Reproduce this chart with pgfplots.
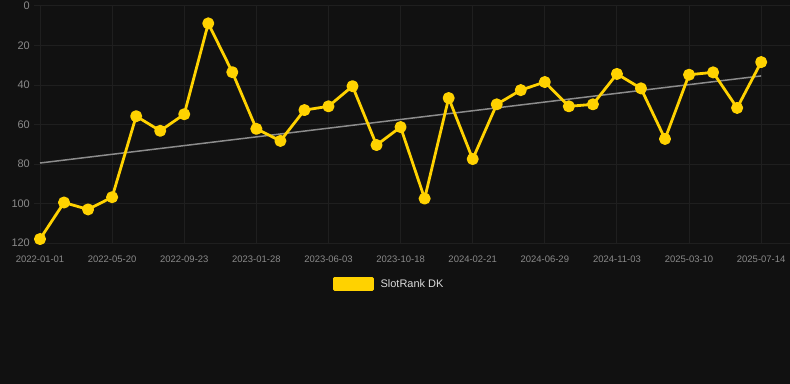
\documentclass[border=0pt]{standalone}
\usepackage{pgfplots}
\pgfplotsset{compat=1.18}
\usepackage{fontspec}
\setmainfont{Liberation Sans}
\definecolor{bg}{HTML}{111111}
\definecolor{ycol}{HTML}{FFD200}
\definecolor{gridc}{HTML}{1F1F1F}
\definecolor{tickc}{HTML}{8A8A8A}
\definecolor{trendc}{HTML}{8C8C8C}
\definecolor{legc}{HTML}{DADADA}
\begin{document}
\begin{tikzpicture}
\fill[bg] (0,0) rectangle (790bp,384bp);
\path[use as bounding box] (0,0) rectangle (790bp,384bp);
\begin{axis}[at={(34bp,141bp)}, anchor=south west, scale only axis,
  width=756bp, height=237bp,
  xmin=-0.25, xmax=31.2, ymin=0, ymax=120, y dir=reverse,
  axis line style={draw=none}, major tick length=0pt,
  grid=major, grid style={gridc, line width=1bp},
  xtick={0,3,...,30},
  xticklabels={2022-01-01,2022-05-20,2022-09-23,2023-01-28,2023-06-03,2023-10-18,2024-02-21,2024-06-29,2024-11-03,2025-03-10,2025-07-14},
  ytick={0,20,...,120},
  /pgf/number format/assume math mode=true,
  x tick label style={text=tickc, font=\fontsize{9.5}{10}\selectfont, anchor=north, inner sep=0pt, yshift=-12.5bp},
  y tick label style={text=tickc, font=\fontsize{11}{12}\selectfont, anchor=east, inner sep=0pt, xshift=-4bp},
  clip=false,
  legend style={at={(0.395,-0.173)}, anchor=west, draw=none, fill=none, inner sep=0pt,
    text=legc, font=\fontsize{11}{12}\selectfont, column sep=0pt,
    nodes={inner sep=0pt, text=legc}},
  legend cell align=left,
]
\addplot[trendc, line width=1.5bp, forget plot] coordinates {(0,79.5) (30,35.4)};
\addplot[ycol, line width=2.8bp, line join=round, mark=*, mark size=4.6bp, mark options={fill=ycol, draw=none},
  legend image code/.code={\fill[ycol] (0bp,-5.4bp) rectangle (38.5bp,5.4bp);}]
 coordinates {
(0,118) (1,99.5) (2,103) (3,96.8) (4,55.8) (5,63.2) (6,54.8) (7,8.8) (8,33.5) (9,62.2)
(10,68.3) (11,52.7) (12,50.8) (13,40.6) (14,70.4) (15,61.3) (16,97.5) (17,46.6) (18,77.5) (19,49.8)
(20,42.6) (21,38.5) (22,50.8) (23,49.8) (24,34.4) (25,41.7) (26,67.3) (27,34.8) (28,33.6) (29,51.6)
(30,28.4)};
\addlegendentry{\hspace{6.5bp}SlotRank DK}
\end{axis}
\end{tikzpicture}
\end{document}
